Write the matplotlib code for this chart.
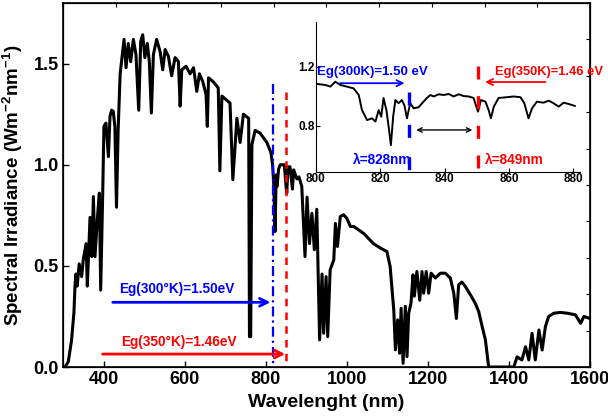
import matplotlib
matplotlib.use("Agg")
import matplotlib.pyplot as plt
import numpy as np

plt.rcParams['font.family'] = ['Liberation Sans', 'DejaVu Sans']
plt.rcParams['font.weight'] = 'bold'
plt.rcParams['mathtext.fontset'] = 'custom'
plt.rcParams['mathtext.rm'] = 'Liberation Sans:bold'
plt.rcParams['mathtext.default'] = 'rm'

# solar spectrum (nm, W m-2 nm-1)
wavelength = [300, 305, 313, 321, 327, 329.6, 332, 335, 340, 346, 350, 357, 360,
              366.7, 371, 375, 379, 385, 389.7, 393, 398, 401, 406, 412, 416, 420,
              424, 428, 432, 436, 441, 450.6, 455.5, 461, 467, 473.6, 480, 486.8,
              491.7, 496.6, 502, 508, 513, 518, 523, 531, 539.5, 546, 552, 560, 568,
              576.5, 584.7, 589, 593, 603.6, 613.5, 622, 630, 636.6, 645, 653, 656,
              659, 671, 683, 687, 692, 712, 719, 729, 737, 745, 758,
              760, 763, 766, 774, 786, 803, 813, 817, 820, 823, 826, 828, 832, 836,
              846, 850, 852, 855, 860, 866, 869, 877, 882, 885, 889, 897, 902, 908,
              914, 920, 926, 933, 939, 943, 949, 953, 959, 968, 972, 977, 984, 992,
              1000, 1009, 1017, 1042, 1066, 1083, 1099, 1107, 1116, 1120, 1125.5,
              1130.5, 1134, 1139, 1144.4, 1148.6, 1152.7, 1158.4, 1163.4, 1166.7,
              1173, 1180, 1185.6, 1189.7, 1196, 1202, 1208, 1218.5, 1231, 1243,
              1255.5, 1264, 1270.4, 1276, 1284, 1292.6, 1305, 1317, 1325.5, 1334,
              1342, 1350, 1412, 1420, 1432, 1441, 1449, 1457, 1465, 1474,
              1482, 1490, 1498, 1511, 1527, 1544, 1564, 1577, 1585, 1600]
irradiance = [0.0, 0.0, 0.026, 0.13, 0.27, 0.40, 0.46, 0.40, 0.51, 0.447, 0.53, 0.61, 0.40,
              0.74, 0.546, 0.843, 0.546, 0.74, 0.86, 0.38, 0.86, 1.19, 1.206, 1.04, 1.24, 1.27,
              1.264, 1.19, 0.79, 1.17, 1.45, 1.62, 1.48, 1.60, 1.51, 1.62, 1.545, 1.27,
              1.61, 1.643, 1.53, 1.60, 1.51, 1.256, 1.545, 1.62, 1.56, 1.47, 1.57, 1.536, 1.44,
              1.53, 1.51, 1.29, 1.47, 1.487, 1.45, 1.48, 1.363, 1.45, 1.41, 1.346, 1.19,
              1.43, 1.41, 1.38, 0.97, 1.34, 1.305, 0.926, 1.23, 1.11, 1.25, 1.23,
              0.15, 0.15, 1.10, 1.17, 1.157, 1.11, 1.06, 1.0, 0.90, 0.67, 0.95, 0.893, 0.98, 1.0,
              1.0, 0.90, 0.86, 0.99, 0.99, 0.88, 0.975, 0.93, 0.94, 0.92, 0.893, 0.546, 0.84, 0.61,
              0.76, 0.58, 0.78, 0.134, 0.46, 0.167, 0.447, 0.15, 0.48, 0.53, 0.71, 0.596, 0.744, 0.753,
              0.736, 0.695, 0.695, 0.66, 0.61, 0.588, 0.571, 0.497, 0.28, 0.085, 0.233,
              0.068, 0.29, 0.018, 0.30, 0.051, 0.266, 0.315, 0.456, 0.35,
              0.472, 0.33, 0.472, 0.365, 0.472, 0.365, 0.464, 0.44, 0.464, 0.464,
              0.44, 0.365, 0.24, 0.406, 0.42, 0.398, 0.357, 0.315, 0.274, 0.2,
              0.134, 0.0, 0.0, 0.05, 0.035, 0.1, 0.035, 0.167, 0.035, 0.183,
              0.084, 0.20, 0.25, 0.266, 0.27, 0.266, 0.258, 0.216, 0.25, 0.24]

# zoomed part 800-880 nm
zoom_wl = [800.3, 802.9, 804.5, 806, 807.6, 811.7, 813.3, 814.3, 815.9, 817.4, 818.5,
           819.5, 820.3, 821, 821.9, 822.6, 823.3, 824, 824.7, 825.7, 826.7, 827.5,
           828.3, 829.3, 830.4, 831.9, 833, 834.5, 835.6, 836.6, 838.2, 839.7, 841.3,
           842.8, 844.4, 845.9, 847.5, 849, 850.4, 851.3, 852.7, 853.7, 854.4, 855.3,
           856.8, 859.4, 861.5, 863.6, 864.8, 866.1, 867.2, 868.7, 870.8, 872.4, 873.9,
           875.5, 877, 878.6, 880.5]
zoom_irr = [1.085, 1.078, 1.067, 1.10, 1.078, 1.055, 1.01, 0.908, 0.84, 0.852, 0.83,
            0.908, 0.863, 0.99, 0.908, 0.795, 0.67, 0.863, 0.976, 0.954, 0.976, 0.94,
            0.852, 0.954, 0.92, 0.927, 0.954, 0.99, 1.01, 1.0, 1.015, 1.01, 1.017,
            1.0, 1.015, 1.003, 1.0, 0.99, 0.897, 0.976, 0.965, 0.908, 0.852, 0.931,
            0.99, 0.995, 1.0, 0.995, 0.954, 0.852, 0.92, 0.965, 0.958, 0.972, 0.954,
            0.931, 0.958, 0.949, 0.936]

eg300_main = 818.5
eg350_main = 850
eg300_zoom = 829
eg350_zoom = 850.5

fig = plt.figure(figsize=(6.08, 4.18), dpi=100)
ax = fig.add_axes([0.1036, 0.122, 0.8668, 0.8708])
ax.plot(wavelength, irradiance, color='black', lw=2.2, zorder=2)

ax.plot([eg300_main, eg300_main], [1.40, 0], color='blue', lw=1.6,
        linestyle=(0, (4.5, 1.8, 1, 1.8)), zorder=3)
ax.plot([eg350_main, eg350_main], [1.36, 0], color='red', lw=1.8,
        linestyle=(0, (3, 2.5)), zorder=3)

ax.text(580, 0.386, 'Eg(300°K)=1.50eV', color='blue', fontsize=9.8,
        fontweight='bold', ha='center', va='center')
ax.annotate('', xy=(eg300_main, 0.32), xytext=(416, 0.32),
            arrowprops=dict(arrowstyle='->', color='blue', lw=2, mutation_scale=14))
ax.text(585, 0.124, 'Eg(350°K)=1.46eV', color='red', fontsize=9.8,
        fontweight='bold', ha='center', va='center')
ax.annotate('', xy=(eg350_main + 5, 0.064), xytext=(391, 0.064),
            arrowprops=dict(arrowstyle='->', color='red', lw=2, mutation_scale=14))

ax.set_xlim(300, 1600)
ax.set_ylim(0, 1.8)
ax.set_xticks([400, 600, 800, 1000, 1200, 1400, 1600])
ax.set_yticks([0.0, 0.5, 1.0, 1.5])
ax.set_yticklabels(['0.0', '0.5', '1.0', '1.5'])
ax.tick_params(direction='in', length=4, width=1, labelsize=13, pad=3)
for lab in ax.get_xticklabels() + ax.get_yticklabels():
    lab.set_fontweight('bold')
for sp in ax.spines.values():
    sp.set_linewidth(1.2)
ax.set_xlabel('Wavelenght (nm)', fontsize=14, fontweight='bold', labelpad=4)
ax.set_ylabel(r'Spectral Irradiance (Wm$^{-2}$nm$^{-1}$)', fontsize=13.5,
              fontweight='bold', labelpad=6)

# extra ticks on top and right (10 divisions)
top = ax.twiny()
top.set_xlim(0, 1)
top.set_xticks(np.arange(0, 1.01, 0.1))
top.tick_params(direction='in', length=3, labeltop=False)
right = ax.twinx()
right.set_ylim(0, 1)
right.set_yticks(np.arange(0, 1.01, 0.1))
right.tick_params(direction='in', length=3, labelright=False)

# inset
ins = fig.add_axes([0.5197, 0.5885, 0.4347, 0.3589])
ins.set_facecolor('white')
ins.plot(zoom_wl, zoom_irr, color='black', lw=1.4)
ins.set_xlim(800, 882.2)
ins.set_ylim(0.488, 1.505)
ins.set_xticks([800, 820, 840, 860, 880])
ins.set_yticks([0.8, 1.2])
ins.tick_params(direction='in', length=3, labelsize=8.5, pad=1)
for lab in ins.get_xticklabels() + ins.get_yticklabels():
    lab.set_fontweight('bold')
ins.spines['top'].set_visible(False)
ins.spines['right'].set_visible(False)

ins.plot([eg300_zoom, eg300_zoom], [1.03, 0.49], color='blue', lw=2.4,
         linestyle=(0, (3.9, 5.8)))
ins.plot([eg350_zoom, eg350_zoom], [1.21, 0.49], color='red', lw=2.4,
         linestyle=(0, (3.9, 5.0)))

ins.text(800.2, 1.166, 'Eg(300K)=1.50 eV', color='blue', fontsize=9.5,
         fontweight='bold', ha='left', va='center')
ins.annotate('', xy=(828.4, 1.09), xytext=(806.6, 1.09),
             arrowprops=dict(arrowstyle='->', color='blue', lw=1.3, mutation_scale=11))
ins.text(855.8, 1.166, 'Eg(350K)=1.46 eV', color='red', fontsize=9.3,
         fontweight='bold', ha='left', va='center', clip_on=False)
ins.annotate('', xy=(851.7, 1.098), xytext=(872.2, 1.098),
             arrowprops=dict(arrowstyle='->', color='red', lw=1.3, mutation_scale=11))
ins.annotate('', xy=(849.5, 0.773), xytext=(830.3, 0.773),
             arrowprops=dict(arrowstyle='<->', color='black', lw=1.0, mutation_scale=8))
ins.text(811.6, 0.57, 'λ=828nm', color='blue', fontsize=9.8,
         fontweight='bold', ha='left', va='center')
ins.text(852.6, 0.57, 'λ=849nm', color='red', fontsize=9.8,
         fontweight='bold', ha='left', va='center')

fig.savefig('out.png', dpi=100)
